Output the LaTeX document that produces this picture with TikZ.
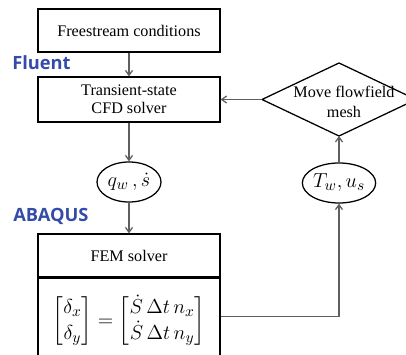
\documentclass[tikz,border=0pt]{standalone}
\usepackage{amsmath}
\usepackage{fontspec}
\setmainfont{Liberation Serif}
\newfontfamily\toolfont{Open Sans}
\usetikzlibrary{shapes.geometric,arrows.meta}
\definecolor{toolblue}{RGB}{52,76,168}
\definecolor{linkgray}{RGB}{95,95,95}

\begin{document}
\begin{tikzpicture}[x=0.025cm, y=-0.025cm,
    box/.style={draw, line width=0.9pt, minimum width=4.55cm, inner sep=2pt,
      align=center, font=\fontsize{11.5}{13}\selectfont},
    var/.style={draw, ellipse, line width=0.9pt, inner sep=0pt,
      minimum height=1cm, font=\fontsize{15}{18}\selectfont},
    link/.style={draw=linkgray, line width=0.9pt,
      -{Straight Barb[length=3.5pt,width=5pt]}},
    tool/.style={anchor=west, inner sep=0pt, text=toolblue,
      font=\toolfont\bfseries\fontsize{13}{15}\selectfont}]
  \clip (0,0) rectangle (406,354);

  % Flow solver
  \node[box, minimum height=1.075cm] (free) at (129,30.5) {Freestream conditions};
  \node[box, minimum height=1.125cm] (cfd) at (129,99.5) {Transient-state\\CFD solver};
  \node[tool] (fluent) at (12,63) {Fluent};

  % Mesh update
  \coordinate (mvl) at (262,99.5);
  \coordinate (mvt) at (339,63);
  \coordinate (mvr) at (416,99.5);
  \coordinate (mvb) at (339,136);
  \draw[line width=0.9pt] (mvl) -- (mvt) -- (mvr) -- (mvb) -- cycle;
  \node[align=center, inner sep=0pt, font=\fontsize{11.5}{14}\selectfont]
    (move) at (344,102) {Move flowfield\\mesh};

  % Exchanged quantities
  \node[var, minimum width=1.6cm] (qs) at (129,182) {$q_w\,,\dot{s}$};
  \node[var, minimum width=1.7cm] (tw) at (339,183) {$T_w,u_s$};

  % Structure solver
  \node[box, minimum height=1.075cm] (fem) at (129,255.5) {FEM solver};
  \node[draw, line width=0.9pt, minimum width=4.55cm, minimum height=2.15cm,
    anchor=north, font=\fontsize{15}{18}\selectfont] (femeq) at (fem.south)
    {$\begin{bmatrix}\delta_x\\ \delta_y\end{bmatrix}
      =\begin{bmatrix}\dot{S}\,\Delta t\,n_x\\ \dot{S}\,\Delta t\,n_y\end{bmatrix}$};
  \node[tool] (abaqus) at (13,216) {ABAQUS};

  \draw[link] (free) -- (cfd);
  \draw[link] (mvl) -- (cfd.east);
  \draw[link] (cfd) -- (qs);
  \draw[link] (qs) -- (fem);
  \draw[link] ([yshift=0.125cm]femeq.east) -| (tw);
  \draw[link] (tw) -- (mvb);
\end{tikzpicture}
\end{document}
